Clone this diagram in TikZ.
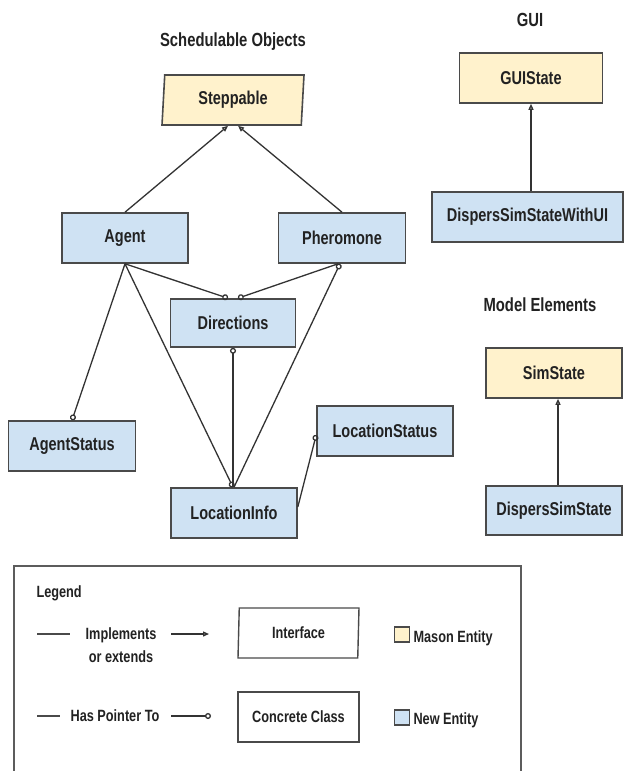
\documentclass[tikz,border=0pt]{standalone}
\usepackage{fontspec}
\setmainfont{Liberation Sans}[FakeStretch=0.78]
\usetikzlibrary{arrows.meta,shapes.geometric}

\definecolor{masonfill}{HTML}{FFF2CC}
\definecolor{newfill}{HTML}{CFE2F3}
\definecolor{edgegray}{HTML}{4A4A4A}
\definecolor{linegray}{HTML}{333333}
\definecolor{txt}{HTML}{222222}

\tikzset{
  lbl/.style={font=\bfseries\fontsize{18.6}{22}\selectfont, text=txt},
  legtxt/.style={font=\bfseries\fontsize{16.3}{23}\selectfont, text=txt},
  title/.style={font=\bfseries\fontsize{19}{22}\selectfont, text=txt},
  box/.style={lbl, draw=edgegray, line width=1.6pt, rectangle, inner sep=0pt,
    minimum height=50pt},
  newbox/.style={box, fill=newfill},
  masonbox/.style={box, fill=masonfill},
  iface/.style={lbl, draw=edgegray, line width=1.6pt, trapezium,
    trapezium left angle=81, trapezium right angle=99,
    trapezium stretches body, inner sep=0pt, minimum height=50pt},
  impl/.style={draw=linegray, line width=1.3pt,
    -{Triangle[open, length=6pt, width=5pt]}},
  ptr/.style={draw=linegray, line width=1.3pt,
    -{Circle[open, length=6pt]}},
  ptrback/.style={draw=linegray, line width=1.3pt,
    {Circle[open, length=6pt]}-},
  swatch/.style={draw=edgegray, line width=1.2pt, minimum width=15pt,
    minimum height=15pt, inner sep=0pt}
}

\begin{document}
\begin{tikzpicture}[x=1pt, y=-1pt]
  \useasboundingbox[fill=white] (0,0) rectangle (624,771);

  % group headings
  \node[title] (tsched) at (233,42) {Schedulable Objects};
  \node[title] (tgui) at (530,20) {GUI};
  \node[title] (tmodel) at (540,305) {Model Elements};

  % schedulable objects
  \node[iface, fill=masonfill, minimum width=142pt] (stp) at (233,100) {Steppable};
  \node[newbox, minimum width=126pt] (agent) at (125,238) {Agent};
  \node[newbox, minimum width=127pt] (pher) at (342,238) {Pheromone};
  \node[newbox, minimum width=125pt, minimum height=48pt] (dir) at (233,323) {Directions};
  \node[newbox, minimum width=127pt] (agst) at (72,446) {AgentStatus};
  \node[newbox, minimum width=126pt] (li) at (234,513) {LocationInfo};
  \node[newbox, minimum width=136pt] (ls) at (385,431) {LocationStatus};

  % GUI
  \node[masonbox, minimum width=143pt] (gui) at (531,78) {GUIState};
  \node[newbox, minimum width=191pt] (dsui) at (527.5,217) {DispersSimStateWithUI};

  % model elements
  \node[masonbox, minimum width=136pt] (ss) at (554,373) {SimState};
  \node[newbox, minimum width=136pt, minimum height=49pt] (dss) at (554,510.5) {DispersSimState};

  % inheritance
  \draw[impl] (agent.north) -- ([xshift=-5pt]stp.south);
  \draw[impl] (pher.north) -- ([xshift=5pt]stp.south);
  \draw[impl] (dsui.north -| gui.south) -- (gui.south);
  \draw[impl] ([xshift=4pt]dss.north) -- ([xshift=4pt]ss.south);

  % pointers
  \draw[ptr] (agent.south) -- ([xshift=-5pt]dir.north);
  \draw[ptr] ([xshift=-4pt]pher.south) -- ([xshift=5pt]dir.north);
  \draw[ptr] (agent.south) -- (agst.north);
  \draw[ptr] (agent.south) -- ([xshift=-1pt]li.north);
  \draw[ptrback] (dir.south) -- ([xshift=-1pt]li.north);
  \draw[ptrback] ([xshift=-2pt]pher.south) -- (li.north);
  \draw[ptr] ([yshift=6pt]li.east) -- ([yshift=-4pt]ls.west);

  % legend frame
  \coordinate (lbl1) at (14,771);
  \coordinate (lbl2) at (14,566);
  \coordinate (lbl3) at (521,566);
  \coordinate (lbl4) at (521,771);
  \draw[draw=edgegray!90, line width=1.4pt] (lbl1) -- (lbl2) -- (lbl3) -- (lbl4);

  \node[legtxt, anchor=west] (leg) at (33,593) {Legend};

  % legend row 1
  \coordinate (r1a) at (37,634);
  \coordinate (r1b) at (70,634);
  \draw[draw=edgegray, line width=1.5pt] (r1a) -- (r1b);
  \node[legtxt, align=center] (implt) at (121,645) {Implements\\or extends};
  \coordinate (r1c) at (171,634);
  \coordinate (r1d) at (209,634);
  \draw[impl] (r1c) -- (r1d);
  \node[iface, legtxt, fill=white, minimum width=121pt, trapezium left angle=84,
    trapezium right angle=96, line width=1.4pt] (ifl) at (298.5,633) {Interface};
  \node[swatch, fill=masonfill] (sw1) at (402,634.5) {};
  \node[legtxt, anchor=west] (mason) at (410,638) {Mason Entity};

  % legend row 2
  \coordinate (r2a) at (37,716);
  \coordinate (r2b) at (60,716);
  \draw[draw=edgegray, line width=1.5pt] (r2a) -- (r2b);
  \node[legtxt] (hpt) at (115,716) {Has Pointer To};
  \coordinate (r2c) at (171,716);
  \coordinate (r2d) at (211,716);
  \draw[ptr] (r2c) -- (r2d);
  \node[box, legtxt, fill=white, minimum width=121pt, line width=1.4pt] (ccl) at (298.5,717) {Concrete Class};
  \node[swatch, fill=newfill] (sw2) at (402,717.5) {};
  \node[legtxt, anchor=west] (newent) at (410,720) {New Entity};
\end{tikzpicture}
\end{document}
